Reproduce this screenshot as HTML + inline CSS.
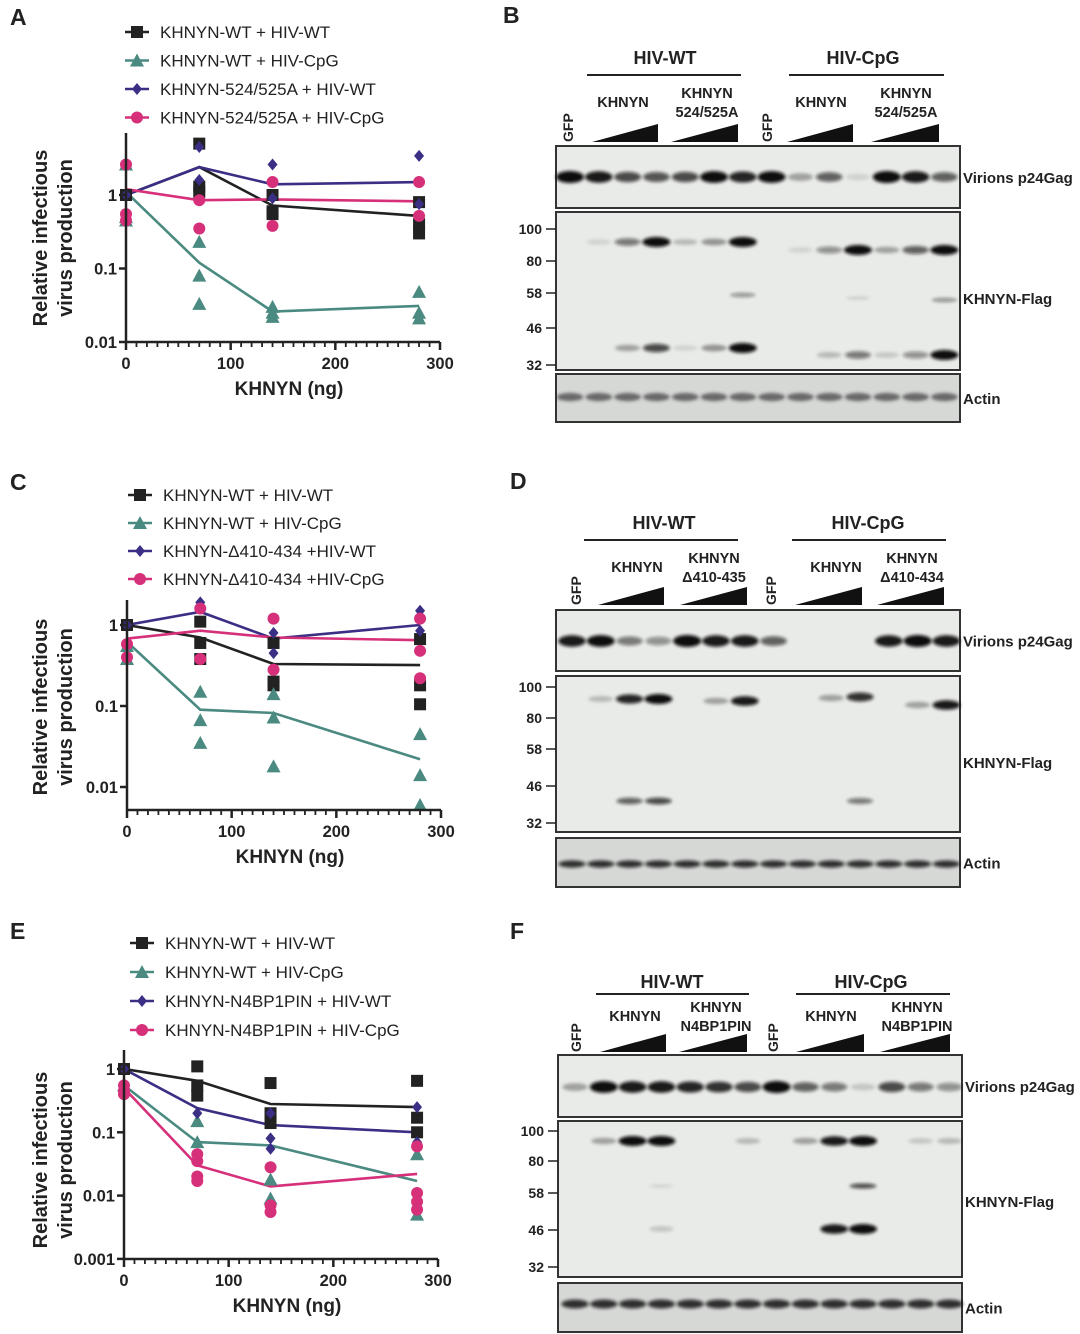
<!DOCTYPE html>
<html><head><meta charset="utf-8">
<style>
html,body{margin:0;padding:0;background:#fff;}
svg{display:block;font-family:"Liberation Sans",Arial,sans-serif;}
</style></head>
<body>
<svg id="fig" width="1080" height="1334" viewBox="0 0 1080 1334" xmlns="http://www.w3.org/2000/svg">
<defs>
<filter id="bl" x="-50%" y="-100%" width="200%" height="300%"><feGaussianBlur stdDeviation="1.6"/></filter>
</defs>
<g id="root"></g>
</svg>
<script>
// ===== Chart data (top level) =====
const xDoses = [0, 70, 140, 280];
const seriesNames = ["KHNYN-WT + HIV-WT","KHNYN-WT + HIV-CpG","KHNYN-524/525A + HIV-WT","KHNYN-524/525A + HIV-CpG"];
const seriesNamesC = ["KHNYN-WT + HIV-WT","KHNYN-WT + HIV-CpG","KHNYN-Δ410-434 +HIV-WT","KHNYN-Δ410-434 +HIV-CpG"];
const seriesNamesE = ["KHNYN-WT + HIV-WT","KHNYN-WT + HIV-CpG","KHNYN-N4BP1PIN + HIV-WT","KHNYN-N4BP1PIN + HIV-CpG"];
const xTickLabels = ["0","100","200","300"];
const yTickLabelsA = ["1","0.1","0.01"];
const yTickLabelsC = ["1","0.1","0.01"];
const yTickLabelsE = ["1","0.1","0.01","0.001"];

// Panel A means
const aBlackMean = [1, 2.4, 0.72, 0.52];
const aTealMean  = [1.1, 0.12, 0.026, 0.031];
const aNavyMean  = [1, 2.4, 1.4, 1.5];
const aPinkMean  = [1.2, 0.85, 0.87, 0.82];
// Panel A replicates
const aBlackPts = [[1,1,1],[5,1.3,1.1],[1.0,0.55,0.6],[0.8,0.4,0.3]];
const aTealPts  = [[2.6,0.5,0.45],[0.23,0.08,0.033],[0.03,0.022,0.025],[0.048,0.025,0.021]];
const aNavyPts  = [[1],[4.5,1.6],[2.6,0.9],[3.4,0.75]];
const aPinkPts  = [[2.6,0.55,0.45],[0.85,0.35],[1.5,0.38],[1.5,0.52]];

// Panel C
const cBlackMean = [1, 0.7, 0.33, 0.32];
const cTealMean  = [0.62, 0.09, 0.082, 0.022];
const cNavyMean  = [1, 1.45, 0.68, 1.0];
const cPinkMean  = [0.68, 0.85, 0.7, 0.65];
const cBlackPts = [[1],[1.1,0.6,0.38],[0.6,0.2,0.18],[0.67,0.18,0.105]];
const cTealPts  = [[0.55,0.38],[0.15,0.067,0.035],[0.14,0.072,0.018],[0.045,0.014,0.006]];
const cNavyPts  = [[1],[1.9],[0.8,0.45],[1.5,0.85]];
const cPinkPts  = [[0.58,0.4],[1.6,0.38],[1.2,0.28],[1.2,0.48,0.22]];

// Panel E
const eBlackMean = [1, 0.65, 0.28, 0.25];
const eTealMean  = [0.55, 0.07, 0.062, 0.017];
const eNavyMean  = [1, 0.24, 0.13, 0.1];
const ePinkMean  = [0.5, 0.03, 0.014, 0.022];
const eBlackPts = [[1],[1.1,0.55,0.38],[0.6,0.2,0.14],[0.65,0.17,0.1]];
const eTealPts  = [[0.55],[0.15,0.07],[0.018,0.009],[0.045,0.005]];
const eNavyPts  = [[1],[0.2],[0.08,0.055,0.2],[0.25,0.07]];
const ePinkPts  = [[0.55,0.45,0.4],[0.045,0.035,0.02,0.017],[0.028,0.007,0.0055],[0.06,0.011,0.008,0.006]];

const COLORS = ["#222222","#4a8a80","#3a2f85","#d6307a"];
const SHAPES = ["square","triangle","diamond","circle"];

const NS = "http://www.w3.org/2000/svg";
const root = document.getElementById('root');
function mk(tag, attrs, parent){
  const e = document.createElementNS(NS, tag);
  for (const k in attrs) e.setAttribute(k, attrs[k]);
  (parent||root).appendChild(e);
  return e;
}
function txt(s, x, y, size, opts, parent){
  opts = opts||{};
  const t = mk('text', {x:x, y:y, 'font-size':size, fill: opts.fill||'#222', 'text-anchor': opts.anchor||'start', 'font-weight': opts.bold?'bold':'normal'}, parent);
  if (opts.rot) t.setAttribute('transform', 'rotate('+opts.rot+' '+x+' '+y+')');
  t.textContent = s;
  return t;
}
function marker(shape, cx, cy, color, parent, s){
  s = s||6;
  let e;
  if (shape==='square') e = mk('rect',{x:cx-s,y:cy-s,width:2*s,height:2*s,fill:color},parent);
  else if (shape==='triangle') e = mk('polygon',{points:(cx)+','+(cy-s-1)+' '+(cx+s+1)+','+(cy+s)+' '+(cx-s-1)+','+(cy+s),fill:color},parent);
  else if (shape==='diamond') e = mk('polygon',{points:cx+','+(cy-s)+' '+(cx+s-1)+','+cy+' '+cx+','+(cy+s)+' '+(cx-s+1)+','+cy,fill:color},parent);
  else e = mk('circle',{cx:cx,cy:cy,r:s,fill:color},parent);
  return e;
}

function drawChart(cfg){
  const g = mk('g',{});
  
  
  const xs = v => cfg.x0 + v/300*(cfg.x300-cfg.x0);
  const ys = v => cfg.y1 - Math.log10(v)*cfg.dec;
  cfg.names.forEach((n,i)=>{
    const ly = cfg.legY + i*cfg.legDy;
    const le = mk('g',{},g);
    
    
    mk('line',{x1:cfg.legX-12,y1:ly,x2:cfg.legX+12,y2:ly,stroke:COLORS[i],'stroke-width':2.5},le);
    marker(SHAPES[i], cfg.legX, ly, COLORS[i], le, 6);
    txt(n, cfg.legX+23, ly+6, 17, {}, le);
  });
  cfg.means.forEach((m,i)=>{
    const d = m.map((v,j)=>(j?'L':'M')+xs(xDoses[j]).toFixed(1)+','+ys(v).toFixed(1)).join(' ');
    const p = mk('path',{d:d,fill:'none',stroke:COLORS[i],'stroke-width':2.6},g);
    
    
  });
  cfg.pts.forEach((arr,i)=>{
    arr.forEach((reps,j)=>{
      reps.forEach(v=>{
        const mkr = marker(SHAPES[i], xs(xDoses[j]), ys(v), COLORS[i], g, 6);
        
        
      });
    });
  });
  const ax = mk('g',{},g);
  
  
  mk('line',{x1:cfg.x0,y1:cfg.yTop,x2:cfg.x0,y2:cfg.yAx,stroke:'#222','stroke-width':2.5},ax);
  mk('line',{x1:cfg.x0,y1:cfg.yAx,x2:cfg.x300,y2:cfg.yAx,stroke:'#222','stroke-width':2.5},ax);
  for (let v=0; v<=300; v+=10){
    const major = v%100===0;
    mk('line',{x1:xs(v),y1:cfg.yAx,x2:xs(v),y2:cfg.yAx+(major?8:5),stroke:'#222','stroke-width':major?2.5:1.8},ax);
  }
  xTickLabels.forEach((s,i)=>{ txt(s, xs(i*100), cfg.yAx+27, 16.5, {anchor:'middle',bold:true}, ax); });
  cfg.yTicks.forEach((s,i)=>{
    const yy = ys(Math.pow(10,-i));
    mk('line',{x1:cfg.x0-7,y1:yy,x2:cfg.x0,y2:yy,stroke:'#222','stroke-width':2.5},ax);
    txt(s, cfg.x0-9, yy+6, 16.5, {anchor:'end',bold:true}, ax);
  });
  const xt = txt('KHNYN (ng)', (cfg.x0+cfg.x300)/2+6, cfg.yAx+53, 19, {anchor:'middle',bold:true}, ax);
  
  const yc = cfg.yMid;
  const y1t = txt('Relative infectious', 47, yc, 20, {anchor:'middle',bold:true,rot:-90}, ax);
  
  txt('virus production', 72, yc, 20, {anchor:'middle',bold:true,rot:-90}, ax);
}

drawChart({name:'chart-a', names:seriesNames, means:[aBlackMean,aTealMean,aNavyMean,aPinkMean], pts:[aBlackPts,aTealPts,aNavyPts,aPinkPts],
  x0:126, x300:440, y1:195, dec:73.5, yAx:342, yTop:133, yTicks:yTickLabelsA, legX:137, legY:32, legDy:28.5, yMid:238});
drawChart({name:'chart-c', names:seriesNamesC, means:[cBlackMean,cTealMean,cNavyMean,cPinkMean], pts:[cBlackPts,cTealPts,cNavyPts,cPinkPts],
  x0:127, x300:441, y1:625, dec:81, yAx:810, yTop:600, yTicks:yTickLabelsC, legX:140, legY:495, legDy:28, yMid:707});
drawChart({name:'chart-e', names:seriesNamesE, means:[eBlackMean,eTealMean,eNavyMean,ePinkMean], pts:[eBlackPts,eTealPts,eNavyPts,ePinkPts],
  x0:124, x300:438, y1:1069, dec:63.3, yAx:1259, yTop:1050, yTicks:yTickLabelsE, legX:142, legY:943, legDy:29, yMid:1160});

[['A',10,25],['B',503,23],['C',10,490],['D',510,489],['E',10,939],['F',510,939]].forEach(p=>{
  const t = txt(p[0], p[1], p[2], 23, {bold:true});
  
  
});

// ===== Western blots =====
function blot(cfg){
  const g = mk('g',{});
  
  
  const lx = i => cfg.lane0 + i*cfg.dl;
  txt('HIV-WT', cfg.wt[0], cfg.hy, 18, {anchor:'middle',bold:true}, g);
  mk('line',{x1:cfg.wt[1],y1:cfg.hy+cfg.lo,x2:cfg.wt[2],y2:cfg.hy+cfg.lo,stroke:'#222','stroke-width':2},g);
  txt('HIV-CpG', cfg.cp[0], cfg.hy, 18, {anchor:'middle',bold:true}, g);
  mk('line',{x1:cfg.cp[1],y1:cfg.hy+cfg.lo,x2:cfg.cp[2],y2:cfg.hy+cfg.lo,stroke:'#222','stroke-width':2},g);
  cfg.gfp.forEach(x=>txt('GFP', x+5, cfg.triY, 14, {bold:true,rot:-90}, g));
  cfg.labs.forEach(l=>{
    if (l.length===2) txt(l[1], l[0], cfg.labY, 14.5, {anchor:'middle',bold:true}, g);
    else { txt(l[1], l[0], cfg.labY-9, 14.5, {anchor:'middle',bold:true}, g); txt(l[2], l[0], cfg.labY+10, 14.5, {anchor:'middle',bold:true}, g); }
  });
  cfg.tris.forEach(t=>{
    mk('polygon',{points:t[0]+','+cfg.triY+' '+t[1]+','+(cfg.triY-18)+' '+t[1]+','+cfg.triY,fill:'#111'},g);
  });
  const boxes = [cfg.vir, cfg.flag, cfg.act];
  boxes.forEach((b,k)=>{
    const r = mk('rect',{x:cfg.bx0,y:b[0],width:cfg.bx1-cfg.bx0,height:b[1]-b[0],fill:k===2?'#d6d8d6':'#e9ebe8',stroke:'#333','stroke-width':2},g);
    
    
  });
  txt('Virions p24Gag', cfg.bx1+3, (cfg.vir[0]+cfg.vir[1])/2+6, 15, {bold:true}, g);
  txt('KHNYN-Flag', cfg.bx1+3, cfg.flagLabY, 15, {bold:true}, g);
  txt('Actin', cfg.bx1+3, (cfg.act[0]+cfg.act[1])/2+6, 15, {bold:true}, g);
  cfg.mw.forEach(m=>{
    txt(m[0], cfg.bx0-14, m[1]+5, 14, {anchor:'end',bold:true}, g);
    mk('line',{x1:cfg.bx0-10,y1:m[1],x2:cfg.bx0,y2:m[1],stroke:'#222','stroke-width':1.5},g);
  });
  const bg = mk('g',{filter:'url(#bl)'},g);
  cfg.bands.forEach(bd=>{
    bd.v.forEach((v,i)=>{
      if (v<=0) return;
      const yy = Array.isArray(bd.y) ? bd.y[i] : bd.y;
      mk('ellipse',{cx:lx(i),cy:yy,rx:12+v*2,ry:bd.h*(0.5+0.5*v),fill:bd.c||'#111','fill-opacity':Math.min(1,v*1.05)},bg);
    });
  });
}

const yB1 = [242,242,242,242,242,242,242,250,250,250,250,250,250,250];
const yB2 = [348,348,348,348,348,348,348,355,355,355,355,355,355,355];
blot({name:'blot-b', lane0:570, dl:28.8, hy:64, lo:11, wt:[665,587,741], cp:[863,789,944], gfp:[568,767],
  labs:[[623,'KHNYN'],[707,'KHNYN','524/525A'],[821,'KHNYN'],[906,'KHNYN','524/525A']], labY:107,
  tris:[[592,658],[671,738],[787,853],[871,939]], triY:142,
  bx0:556, bx1:960, vir:[146,208], flag:[212,370], act:[374,422], flagLabY:304,
  mw:[['100',229],['80',261],['58',293],['46',328],['32',365]],
  bands:[
    {y:177, h:6, v:[1,0.9,0.7,0.65,0.7,0.95,0.85,0.95,0.3,0.6,0.1,1,0.9,0.6]},
    {y:yB1, h:5, v:[0,0.1,0.5,1,0.2,0.35,1,0,0.1,0.4,1,0.3,0.6,1]},
    {y:[295,295,295,295,295,295,295,298,298,298,298,298,298,300], h:3, v:[0,0,0,0,0,0,0.4,0,0,0,0.12,0,0,0.4]},
    {y:yB2, h:5, v:[0,0,0.3,0.7,0.1,0.35,1,0,0,0.2,0.5,0.15,0.4,1]},
    {y:397, h:5, v:[0.65,0.65,0.65,0.65,0.65,0.65,0.65,0.65,0.65,0.65,0.65,0.65,0.65,0.65], c:'#333'}
  ]});

blot({name:'blot-d', lane0:572, dl:28.8, hy:529, lo:11, wt:[664,584,738], cp:[868,792,946], gfp:[576,771],
  labs:[[637,'KHNYN'],[714,'KHNYN','Δ410-435'],[836,'KHNYN'],[912,'KHNYN','Δ410-434']], labY:572,
  tris:[[598,664],[680,747],[795,862],[877,944]], triY:605,
  bx0:556, bx1:960, vir:[610,671], flag:[676,832], act:[838,887], flagLabY:768,
  mw:[['100',687],['80',718],['58',749],['46',786],['32',823]],
  bands:[
    {y:641, h:6, v:[0.9,0.95,0.5,0.4,1,0.9,0.9,0.6,0,0,0,0.9,1,0.9]},
    {y:[699,699,699,699,699,701,701,699,699,698,697,705,705,705], h:5, v:[0,0.2,0.85,1,0,0.3,0.9,0,0,0.3,0.8,0,0.3,0.9]},
    {y:801, h:4, v:[0,0,0.6,0.7,0,0,0,0,0,0,0.5,0,0,0]},
    {y:864, h:4, v:[0.8,0.8,0.8,0.8,0.8,0.8,0.8,0.8,0.8,0.8,0.8,0.8,0.8,0.8]}
  ]});

blot({name:'blot-f', lane0:575, dl:28.8, hy:988, lo:6, wt:[672,596,749], cp:[871,796,950], gfp:[576,773],
  labs:[[635,'KHNYN'],[716,'KHNYN','N4BP1PIN'],[831,'KHNYN'],[917,'KHNYN','N4BP1PIN']], labY:1021,
  tris:[[600,666],[679,747],[796,864],[880,950]], triY:1052,
  bx0:558, bx1:962, vir:[1055,1117], flag:[1121,1277], act:[1283,1332], flagLabY:1207,
  mw:[['100',1131],['80',1161],['58',1193],['46',1230],['32',1267]],
  bands:[
    {y:1087, h:6, v:[0.3,0.95,0.9,0.9,0.85,0.8,0.7,1,0.6,0.5,0.15,0.7,0.5,0.4]},
    {y:1141, h:5, v:[0,0.3,1,1,0,0,0.2,0,0.3,0.9,1,0,0.15,0.2]},
    {y:1186, h:3, v:[0,0,0,0.1,0,0,0,0,0,0,0.7,0,0,0]},
    {y:1229, h:5, v:[0,0,0,0.15,0,0,0,0,0,0.9,1,0,0,0]},
    {y:1304, h:5, v:[0.8,0.8,0.8,0.8,0.8,0.8,0.8,0.8,0.8,0.8,0.8,0.8,0.8,0.8]}
  ]});
</script>
</body></html>
